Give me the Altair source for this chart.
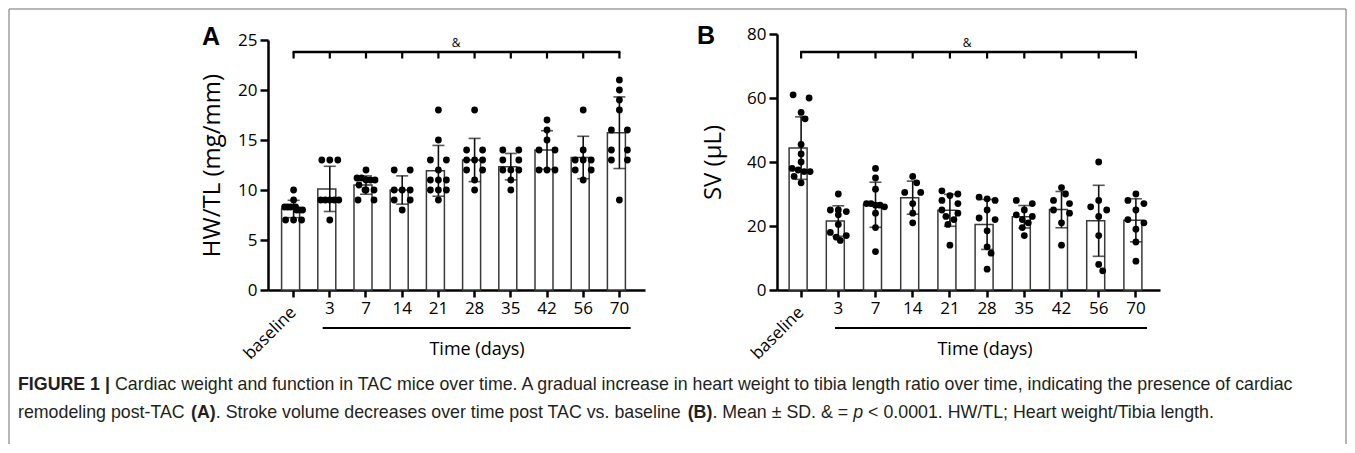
import altair as alt
import numpy as np
import pandas as pd

# ---------------- data ----------------
cats = ["baseline", "3", "7", "14", "21", "28", "35", "42", "56", "70"]

hwtl_points = [
    [10, 9, 8.3, 8.3, 8.3, 8.3, 8, 8, 8, 7, 7, 7],
    [13, 13, 13, 9, 9, 9, 9, 9, 7],
    [12, 11.2, 11.2, 11, 11, 11, 10.5, 10, 10, 10, 9, 9],
    [12, 12, 10, 10, 10, 9, 9, 8],
    [18, 15, 13, 13, 12, 11, 11, 11, 10, 10, 10, 9],
    [18, 14, 14, 13, 13, 13, 12, 12, 11, 10],
    [14, 14, 13, 13, 12, 12, 12, 11, 10],
    [17, 16, 15, 14, 14, 12, 12, 12],
    [18, 14, 13, 13, 13, 12, 12, 11],
    [21, 20, 19, 18, 16, 16, 14, 14, 13, 13, 9],
]

sv_points = [
    [61, 60, 55.5, 53.5, 45.5, 42.5, 40, 38, 37.5, 37, 37, 35.5, 33.5],
    [30, 25, 25, 24.5, 23.5, 20.5, 18, 17, 16.5, 15.5],
    [38, 35, 31.5, 27, 27, 26.5, 26.5, 26, 24, 19.5, 12],
    [35.5, 33.5, 30.5, 30.5, 27, 24, 21],
    [31, 30, 29.5, 28, 27, 25, 24, 23, 22, 20.5, 14],
    [29, 28.5, 28, 25, 22.5, 22, 18.5, 13.5, 11.5, 6.5],
    [28, 27, 25, 23.5, 23, 22, 21, 19.5, 17],
    [32, 30, 28, 27, 25, 24, 21, 14],
    [40, 28, 26, 25, 23, 17, 8, 6],
    [30, 28, 27, 25, 22, 21, 19, 15, 9],
]

hwtl_ticks = [0, 5, 10, 15, 20, 25]
sv_ticks = [0, 20, 40, 60, 80]

# (text, weight, style, followed_by_space)
caption_line1 = [
    ("FIGURE 1 |", "bold", "normal", True),
    ("Cardiac weight and function in TAC mice over time. A gradual increase in heart weight to tibia length ratio over time, indicating the presence of cardiac", "normal", "normal", False),
]
caption_line2 = [
    ("remodeling post-TAC", "normal", "normal", True),
    ("(A)", "bold", "normal", False),
    (". Stroke volume decreases over time post TAC vs. baseline", "normal", "normal", True),
    ("(B)", "bold", "normal", False),
    (". Mean \u00b1 SD. & =", "normal", "normal", True),
    ("p", "normal", "italic", True),
    ("< 0.0001. HW/TL; Heart weight/Tibia length.", "normal", "normal", False),
]

FONT = "Open Sans"
CAP_FONT = "Liberation Sans"
CAP_SIZE = 17.8
ONE = pd.DataFrame({"k": [0]})

# Arial-compatible advance widths (1/1000 em) used to lay caption runs side by side
_W = {' ': 278, '&': 667, '(': 333, ')': 333, ',': 278, '-': 333, '.': 278, '/': 278,
      ':': 278, ';': 278, '<': 584, '=': 584, '>': 584, '|': 260, '\u00b1': 549, '\u00b5': 556}
for ch in "0123456789":
    _W[ch] = 556
_W.update(dict(zip("ABCDEFGHIJKLMNOPQRSTUVWXYZ",
                   [667, 667, 722, 722, 667, 611, 778, 722, 278, 500, 667, 556, 833,
                    722, 778, 667, 778, 722, 667, 611, 722, 667, 944, 667, 667, 611])))
_W.update(dict(zip("abcdefghijklmnopqrstuvwxyz",
                   [556, 556, 500, 556, 556, 278, 556, 556, 222, 222, 500, 222, 833,
                    556, 556, 556, 556, 333, 500, 278, 556, 500, 722, 500, 500, 500])))
_WB = dict(_W)
_WB.update(dict(zip("ABCDEFGHIJKLMNOPQRSTUVWXYZ",
                    [722, 722, 722, 722, 667, 611, 778, 722, 278, 556, 722, 611, 833,
                     722, 778, 667, 778, 722, 667, 611, 722, 667, 944, 667, 667, 611])))
_WB['|'] = 280


def text_w(s, size, bold=False):
    t = _WB if bold else _W
    return sum(t.get(c, 556) for c in s) * size / 1000.0


# ------------- beeswarm offsets (pixels) -------------
def swarm(vals, ppu, d=8.0, tol=4.5, half=9.0):
    idx = sorted(range(len(vals)), key=lambda i: -vals[i])
    rows = []
    for i in idx:
        y = vals[i] * ppu
        if rows and rows[-1][0] - y < tol:
            rows[-1][1].append(i)
        else:
            rows.append([y, [i]])
    pref, rowid = {}, {}
    for r_i, (_, r) in enumerate(rows):
        n = len(r)
        if n == 1:
            p = [0.0]
        elif n == 2:
            p = [-d, d]
        elif n == 3:
            p = [-d, 0.0, d]
        else:
            p = list(np.linspace(-half, half, n))
        for k, i in enumerate(r):
            pref[i] = p[k]
            rowid[i] = r_i
    out = [0.0] * len(vals)
    placed = []
    for i in idx:
        y = vals[i] * ppu

        def ok(x):
            return all((x - px) ** 2 + (y - py) ** 2 >= (0.9 * d) ** 2
                       for px, py, rr in placed if rr != rowid[i])

        best = pref[i]
        if not ok(best):
            done = False
            for s in range(1, 14):
                for sg in (1, -1):
                    c = pref[i] + sg * s
                    if abs(c) <= half + 1 and ok(c):
                        best = c
                        done = True
                        break
                if done:
                    break
        out[i] = best
        placed.append((best, y, rowid[i]))
    return out


def band_geom(W, pI, pO):
    n = len(cats)
    step = W / (n - pI + 2 * pO)
    bw = step * (1 - pI)
    centers = [step * pO + i * step + bw / 2 for i in range(n)]
    return centers, bw


def panel(points, ppu, W, H, pI, pO, ydom, yrange, yticks, ytitle, title_x,
          letter, letter_xy, bracket_y, amp_x, line_x, time_x, extra=None):
    rows = []
    for c, vals in zip(cats, points):
        for v, o in zip(vals, swarm(vals, ppu)):
            rows.append({"cat": c, "value": v, "off": o})
    df = pd.DataFrame(rows)
    centers, bw = band_geom(W, pI, pO)

    xscale = alt.Scale(domain=cats, paddingInner=pI, paddingOuter=pO)
    xaxis = alt.Axis(title=None, labelAngle=0, bandPosition=0.5,
                     labelExpr="datum.value == 'baseline' ? '' : datum.value",
                     labelFontSize=17, labelPadding=3, tickSize=7)
    X = alt.X("cat:N", scale=xscale, axis=xaxis, sort=cats)
    sc_kw = dict(domain=ydom, nice=False, zero=True)
    if yrange is not None:
        sc_kw["range"] = yrange
    yscale = alt.Scale(**sc_kw)
    yaxis = alt.Axis(values=yticks, title=ytitle, titleFontSize=24,
                     titleX=title_x, titleBaseline="middle", titleAlign="center",
                     titleAngle=270, labelFontSize=17, labelPadding=3, tickSize=8)

    base = alt.Chart(df)
    bars = base.mark_bar(fill="white", stroke="#3a3a3a", strokeWidth=1.5).encode(
        x=X, y=alt.Y("mean(value):Q", scale=yscale, axis=yaxis, title=ytitle))
    err = base.mark_errorbar(extent="stdev", ticks=True, size=12, thickness=1.6,
                             color="#111").encode(
        x=X, y=alt.Y("value:Q", scale=yscale, axis=yaxis, title=ytitle))
    pts = base.mark_circle(size=46, color="black", opacity=1).encode(
        x=X,
        xOffset=alt.XOffset("off:Q", scale=alt.Scale(domain=[-bw / 2, bw / 2], range=[0, bw])),
        y=alt.Y("value:Q", scale=yscale, axis=yaxis, title=ytitle))

    catdf = pd.DataFrame({"cat": cats})
    br_ticks = alt.Chart(catdf).mark_rule(color="black", strokeWidth=2.2).encode(
        x=X, y=alt.value(bracket_y), y2=alt.value(bracket_y + 6.5))
    br_line = alt.Chart(ONE).mark_rule(color="black", strokeWidth=2.5).encode(
        x=alt.value(centers[0] - 1), x2=alt.value(centers[-1] + 1), y=alt.value(bracket_y))
    amp = alt.Chart(ONE).mark_text(text="&", font=FONT, fontSize=12, color="black",
                                   baseline="bottom").encode(
        x=alt.value(amp_x), y=alt.value(bracket_y - 2))
    let = alt.Chart(ONE).mark_text(text=letter, font=CAP_FONT, fontSize=25, fontWeight="bold",
                                   color="black", baseline="middle", align="center").encode(
        x=alt.value(letter_xy[0]), y=alt.value(letter_xy[1]))
    tline = alt.Chart(ONE).mark_rule(color="black", strokeWidth=2).encode(
        x=alt.value(line_x[0]), x2=alt.value(line_x[1]), y=alt.value(H + 38))
    ttext = alt.Chart(ONE).mark_text(text="Time (days)", font=FONT, fontSize=18, color="black",
                                     baseline="middle", align="center").encode(
        x=alt.value(time_x), y=alt.value(H + 60))
    bl = alt.Chart(pd.DataFrame({"cat": ["baseline"]})).mark_text(
        text="baseline", font=FONT, fontSize=17, color="black", angle=315,
        align="right", baseline="middle").encode(
        x=X, y=alt.value(H + 20))

    layers = [bars, err, pts, br_ticks, br_line, amp, let, tline, ttext, bl]
    if extra:
        layers += extra
    return alt.layer(*layers).properties(width=W, height=H)


# --------- frame + caption (positions relative to panel A's plot) ---------
OX, OY = 268, 34   # page position of panel A plot origin


def rel(px, py):
    return px - OX, py - OY


extra = []
fl, ft = rel(9, 9)
fr, fb = rel(1346, 444)
extra.append(alt.Chart(ONE).mark_rule(color="#6e6e6e", strokeWidth=1).encode(
    x=alt.value(fl), y=alt.value(ft), y2=alt.value(fb)))
extra.append(alt.Chart(ONE).mark_rule(color="#6e6e6e", strokeWidth=1).encode(
    x=alt.value(fl), x2=alt.value(fr), y=alt.value(ft)))
extra.append(alt.Chart(ONE).mark_rule(color="#6e6e6e", strokeWidth=1).encode(
    x=alt.value(fr), y=alt.value(ft), y2=alt.value(fb)))


def caption_runs(runs, page_y):
    out = []
    px = 18.0
    for txt, wt, st, sp in runs:
        x, y = rel(px, page_y)
        out.append(alt.Chart(ONE).mark_text(text=txt, font=CAP_FONT, fontSize=CAP_SIZE,
                                            fontWeight=wt, fontStyle=st, color="#231f20",
                                            align="left", baseline="middle").encode(
            x=alt.value(x), y=alt.value(y)))
        px += text_w(txt, CAP_SIZE, wt == "bold")
        if sp:
            px += text_w(" ", CAP_SIZE)
    return out


extra += caption_runs(caption_line1, 385)
extra += caption_runs(caption_line2, 413)

HA = 256
panelA = panel(hwtl_points, 10.0, 377, HA, 0.337, 0.3755, [0, 25], [HA, 6], hwtl_ticks,
               "HW/TL (mg/mm)", -56, "A", (-57, 3), 18, 188,
               (54.7, 362.7), 209, extra)
panelB = panel(sv_points, 3.22, 383, HA, 0.355, 0.3255, [0, 80], None, sv_ticks,
               "SV (\u00b5L)", -64, "B", (-71, 2), 18, 190,
               (58, 370), 208)

chart = alt.hconcat(panelA, panelB, spacing=132, bounds="flush").properties(
    padding=0
).configure_view(stroke=None).configure_axis(
    domainColor="black", domainWidth=2.5, tickColor="black", tickWidth=2.5,
    labelColor="black", titleColor="black", grid=False, labelFont=FONT,
    titleFont=FONT, titleFontWeight="normal"
)

chart.save("out.html", embed_options={"renderer": "svg", "actions": False})
